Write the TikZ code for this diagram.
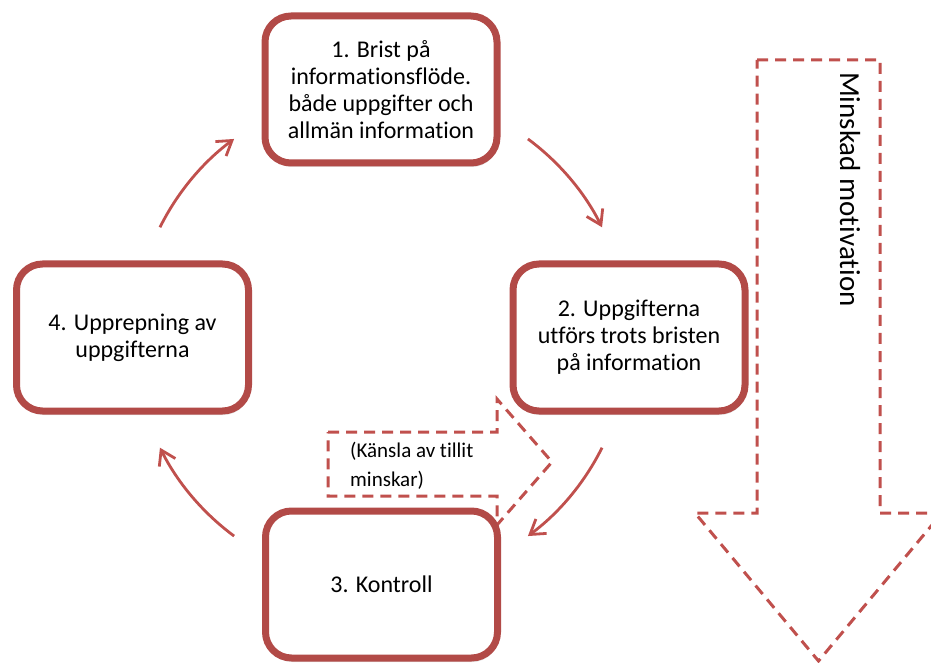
\documentclass[tikz,border=0pt]{standalone}
\usepackage{fontspec}
\setmainfont{Carlito}[Ligatures=NoCommon]
\usetikzlibrary{arrows.meta,shadows}
\definecolor{boxred}{RGB}{178,74,71}
\definecolor{accred}{RGB}{192,80,77}
\begin{document}
\begin{tikzpicture}[x=1pt,y=1pt,
  stepbox/.style={draw=boxred, line width=7pt, rounded corners=26pt, fill=white,
    minimum width=232pt, minimum height=147pt, align=center, inner sep=0pt,
    font=\fontsize{24}{27}\selectfont,
    drop shadow={shadow xshift=1pt,shadow yshift=-4pt,opacity=0.22}},
  cyc/.style={draw=accred, line width=2.8pt, -{Straight Barb[length=14pt,width=18pt]}},
  dashline/.style={draw=accred, line width=3pt, dash pattern=on 11pt off 7pt}
]
\useasboundingbox (0,0) rectangle (931,662);
\clip (0,0) rectangle (931,662);
% big dashed down arrow
\draw[dashline] (757,602) -- (880,602) -- (880,149) -- (942,149) -- (818.5,1) -- (695,149) -- (757,149) -- cycle;
\node[rotate=-90, anchor=west, inner sep=0pt, font=\fontsize{29}{32}\selectfont] (mot) at (850,590) {Minskad motivation};
% callout
\draw[dashline] (328,230) -- (497,230) -- (497,263) -- (552,200) -- (497,137) -- (497,166) -- (328,166) -- cycle;
\node[anchor=west, align=left, inner sep=0pt, font=\fontsize{21}{29}\selectfont] (kansla) at (350,196) {(Känsla av tillit\\minskar)};
% boxes
\node[stepbox] (b1) at (381,572.5) {1. Brist på\\informationsflöde.\\både uppgifter och\\allmän information};
\node[stepbox] (b2) at (629,324.5) {2. Uppgifterna\\utförs trots bristen\\på information};
\node[stepbox] (b3) at (381.5,77.5) {3. Kontroll};
\node[stepbox] (b4) at (132.5,324.5) {4. Upprepning av\\uppgifterna};
% cycle arrows
\coordinate (c) at (381,324.5);
\draw[cyc] ([shift={(53.5:247)}]c) arc[start angle=53.5,end angle=26.5,radius=247];
\draw[cyc] ([shift={(-26.5:247)}]c) arc[start angle=-26.5,end angle=-53.5,radius=247];
\draw[cyc] ([shift={(-126.5:247)}]c) arc[start angle=-126.5,end angle=-153.5,radius=247];
\draw[cyc] ([shift={(153.5:247)}]c) arc[start angle=153.5,end angle=126.5,radius=247];
\end{tikzpicture}
\end{document}
